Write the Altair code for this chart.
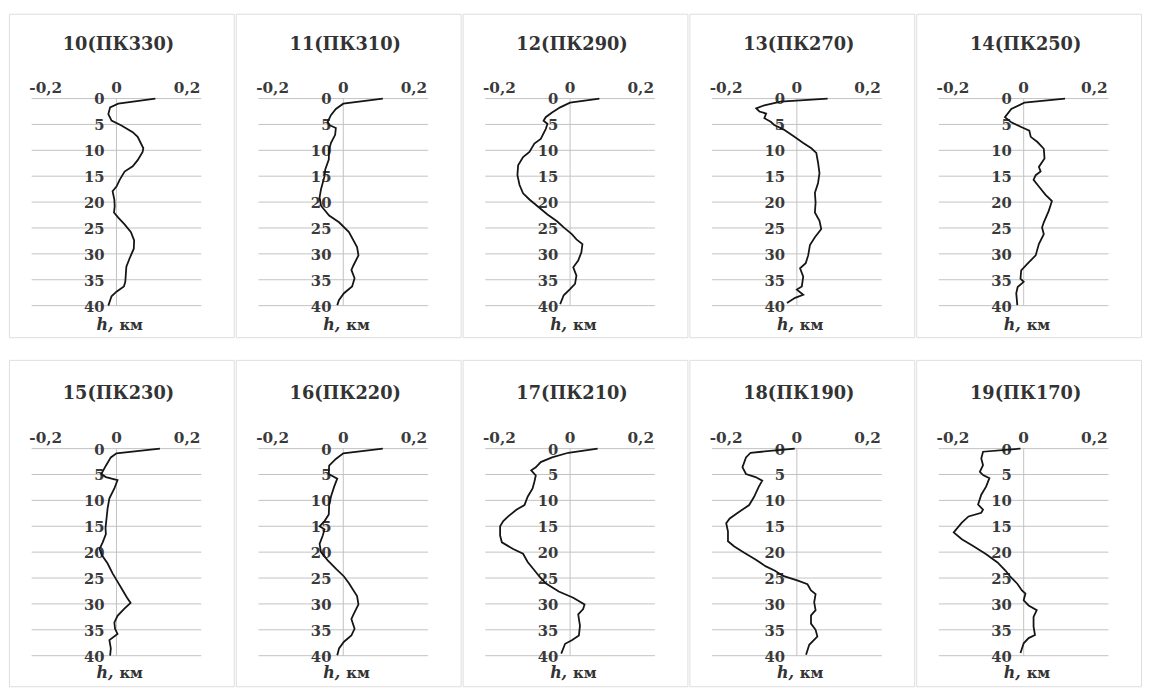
import altair as alt
import pandas as pd

# ---------------- data ----------------
titles = ["10(ПК330)", "11(ПК310)", "12(ПК290)", "13(ПК270)", "14(ПК250)",
          "15(ПК230)", "16(ПК220)", "17(ПК210)", "18(ПК190)", "19(ПК170)"]

y_ticks = [0, 5, 10, 15, 20, 25, 30, 35, 40]
x_ticks = [-0.2, 0, 0.2]
x_tick_labels = ["-0,2", "0", "0,2"]

h10 = [0, 1, 1.7, 3, 4.25, 5.2, 6.5, 7.4, 9.6, 10.3, 11.9, 13.1, 14.1, 15.7, 17, 17.9, 19.5, 20.8, 22, 23,
       24.3, 25.8, 27.4, 29, 30.9, 32.5, 35.4, 36.3, 37.3, 38.2, 40]
v10 = [0.11, 0.005, -0.018, -0.023, -0.014, 0.014, 0.046, 0.06, 0.076, 0.074, 0.06, 0.046, 0.023, 0.009, 0,
       -0.011, -0.006, -0.005, -0.007, 0.005, 0.023, 0.041, 0.05, 0.049, 0.037, 0.028, 0.025, 0.021, 0,
       -0.014, -0.023]

h11 = [0, 1, 2, 3.2, 4.5, 5.1, 5.7, 7, 8.6, 9.9, 11.8, 13.7, 15, 17.5, 19.1, 20.7, 22.6, 23.9, 25.8, 28.7,
       30.3, 32.2, 33.1, 34.7, 36.3, 37.6, 38.9, 39.9]
v11 = [0.112, 0, -0.021, -0.035, -0.044, -0.04, -0.021, -0.023, -0.035, -0.04, -0.041, -0.051, -0.053,
       -0.063, -0.067, -0.063, -0.04, -0.012, 0.016, 0.039, 0.043, 0.029, 0.023, 0.032, 0.025, 0.002,
       -0.012, -0.017]

h12 = [0, 0.8, 1.7, 2.7, 3.6, 4.3, 4.9, 5.9, 7.8, 8.7, 10.3, 11.3, 12.9, 14.8, 16.7, 18.3, 19.5, 20.8, 22.4,
       23.7, 24.9, 26.2, 27.2, 28.1, 29.7, 31.3, 32.6, 34.2, 35.8, 36.8, 38, 39.7]
v12 = [0.083, 0, -0.028, -0.051, -0.069, -0.075, -0.064, -0.069, -0.083, -0.101, -0.115, -0.133, -0.147,
       -0.149, -0.143, -0.133, -0.115, -0.092, -0.064, -0.037, -0.018, 0.005, 0.018, 0.035, 0.032, 0.023,
       0.009, 0.018, 0.014, 0, -0.018, -0.028]

h13 = [0, 0.6, 1.3, 1.9, 2.5, 2.9, 3.8, 4.5, 5.1, 6, 7.3, 8.6, 9.6, 10.5, 12.4, 14.4, 16.3, 18.2, 20.1, 22,
       23.6, 25.2, 26.8, 28.3, 30.3, 31.8, 32.8, 34.4, 36.3, 36.9, 37.9, 38.5, 39.5]
v13 = [0.087, -0.046, -0.092, -0.115, -0.106, -0.087, -0.092, -0.074, -0.064, -0.037, -0.009, 0.018,
       0.041, 0.055, 0.06, 0.064, 0.06, 0.051, 0.053, 0.051, 0.064, 0.069, 0.051, 0.037, 0.032, 0.025,
       0.009, 0.018, 0.014, 0, 0.018, -0.005, -0.028]

h14 = [0, 0.8, 2, 3.6, 4.6, 5.5, 6.2, 7.4, 8.4, 9.7, 11.6, 13.2, 14.1, 14.8, 15.7, 17, 18.6, 19.8, 21.7,
       23.9, 24.9, 26.2, 28.1, 30.3, 31.9, 33.2, 34.8, 35.4, 36.4, 37.6, 39.9]
v14 = [0.117, 0.002, -0.035, -0.053, -0.035, -0.007, 0.016, 0.02, 0.039, 0.057, 0.059, 0.043, 0.048,
       0.034, 0.028, 0.043, 0.062, 0.08, 0.071, 0.057, 0.052, 0.057, 0.043, 0.034, 0.011, -0.007, -0.009,
       0, -0.017, -0.021, -0.018]

h15 = [0, 0.9, 1.7, 3.3, 4.9, 5.5, 6.1, 7.7, 9.6, 11.5, 13.4, 15.3, 16.5, 18.1, 19.4, 20.6, 22.2, 24.1,
       25.7, 27.3, 28.8, 29.8, 31, 32.3, 33.6, 34.8, 35.8, 37, 38.6, 40]
v15 = [0.123, 0, -0.016, -0.03, -0.043, -0.03, 0.003, -0.006, -0.02, -0.025, -0.028, -0.031, -0.03,
       -0.039, -0.048, -0.041, -0.025, -0.011, 0.003, 0.017, 0.03, 0.04, 0.021, 0.003, -0.006, -0.004,
       0.003, -0.02, -0.016, -0.018]

h16 = [0, 0.9, 2, 3.3, 4.9, 5.8, 7.4, 9.3, 10.9, 12.7, 14, 15, 15.6, 16.8, 18.4, 20, 21.6, 23.2, 24.7, 26,
       28.5, 30.1, 32, 32.9, 34.8, 36.1, 37.3, 38.6, 39.9]
v16 = [0.112, 0, -0.021, -0.04, -0.041, -0.017, -0.026, -0.035, -0.04, -0.041, -0.053, -0.067, -0.053,
       -0.058, -0.067, -0.063, -0.044, -0.021, 0.002, 0.016, 0.039, 0.043, 0.029, 0.023, 0.032, 0.023,
       0.002, -0.012, -0.017]

h17 = [0, 0.8, 1.7, 2.6, 3.6, 4.2, 5.2, 6.4, 7.7, 9.3, 10.9, 11.8, 13.1, 14, 15, 16.8, 18.1, 19.4, 20.3,
       21.9, 23.5, 24.7, 26, 27.6, 28.8, 30.1, 31, 32, 34.2, 36.1, 37, 37.7, 39.6]
v17 = [0.078, -0.005, -0.051, -0.083, -0.097, -0.11, -0.097, -0.101, -0.106, -0.12, -0.129, -0.152,
       -0.175, -0.189, -0.198, -0.198, -0.193, -0.161, -0.133, -0.12, -0.101, -0.087, -0.069, -0.032,
       0.009, 0.041, 0.037, 0.023, 0.028, 0.025, 0.005, -0.014, -0.025]

h18 = [0, 0.8, 1.7, 3.6, 4.9, 5.5, 6.2, 7.4, 9.3, 10.9, 12.2, 13.5, 14.4, 16, 17.9, 18.9, 20.1, 21.4, 22.7,
       23.6, 24.6, 25.5, 26.2, 27.4, 28.1, 29.7, 31.2, 32.2, 33.8, 35, 36.3, 37.9, 39.8]
v18 = [-0.006, -0.131, -0.144, -0.154, -0.144, -0.117, -0.098, -0.108, -0.121, -0.135, -0.163, -0.19,
       -0.2, -0.195, -0.195, -0.177, -0.149, -0.117, -0.089, -0.062, -0.039, 0.003, 0.03, 0.04, 0.053,
       0.049, 0.053, 0.04, 0.04, 0.053, 0.058, 0.035, 0.026]

h19 = [0, 0.6, 1.9, 3.2, 4.5, 5.1, 5.7, 7.3, 8.9, 10.8, 11.8, 12.4, 13.1, 14.3, 16.2, 17.5, 18.8, 20.4, 22,
       23.6, 24.8, 26.1, 27.4, 28, 29.3, 30.3, 31.2, 32.5, 34.4, 36, 36.6, 37.6, 39.5]
v19 = [-0.009, -0.115, -0.12, -0.115, -0.124, -0.115, -0.097, -0.106, -0.12, -0.129, -0.115, -0.12,
       -0.156, -0.175, -0.198, -0.175, -0.143, -0.106, -0.074, -0.051, -0.037, -0.018, -0.005, 0.005, 0,
       0.014, 0.037, 0.028, 0.028, 0.032, 0.014, 0, -0.009]

profiles_h = [h10, h11, h12, h13, h14, h15, h16, h17, h18, h19]
profiles_v = [v10, v11, v12, v13, v14, v15, v16, v17, v18, v19]

# ---------------- styling ----------------
FONT = "DejaVu Serif"
TXT = "#3a3a3a"
GRID = "#c2c2c2"
X_MIN, X_MAX = -0.24, 0.24
PW = 228


def make_panel(title, h, v, ph, top, title_y, unit_y):
    # top: vertical shift of the panel's content (px) inside its box
    xs = alt.Scale(domain=[X_MIN, X_MAX], range=[23, 195], nice=False, zero=False)
    ys = alt.Scale(domain=[0, 40], range=[91 + top, 301 + top], nice=False, zero=False)

    grid_df = pd.DataFrame({
        "t": y_ticks,
        "xa": [X_MIN] * len(y_ticks),
        "xb": [X_MAX] * len(y_ticks),
        "x0": [0] * len(y_ticks),
        "lab": [str(t) for t in y_ticks],
    })
    xt_df = pd.DataFrame({"x": x_ticks, "lab": x_tick_labels})
    zero_df = pd.DataFrame({"x": [0], "y1": [y_ticks[0]], "y2": [y_ticks[-1]]})
    line_df = pd.DataFrame({"h": h, "v": v, "i": list(range(len(h)))})
    one = pd.DataFrame({"a": [0]})

    grid = alt.Chart(grid_df).mark_rule(color=GRID, strokeWidth=1).encode(
        x=alt.X("xa:Q", scale=xs, axis=None),
        x2="xb:Q",
        y=alt.Y("t:Q", scale=ys, axis=None),
    )
    zero = alt.Chart(zero_df).mark_rule(color=GRID, strokeWidth=1).encode(
        x=alt.X("x:Q", scale=xs, axis=None),
        y=alt.Y("y1:Q", scale=ys, axis=None),
        y2="y2:Q",
    )
    xlab = alt.Chart(xt_df).mark_text(
        align="center", baseline="alphabetic", font=FONT, fontWeight="bold",
        fontSize=15.5, color=TXT,
    ).encode(
        x=alt.X("x:Q", scale=xs, axis=None),
        y=alt.value(85 + top),
        text="lab:N",
    )
    ylab = alt.Chart(grid_df).mark_text(
        align="right", baseline="middle", dx=-12, dy=1, font=FONT, fontWeight="bold",
        fontSize=15, color=TXT,
    ).encode(
        x=alt.X("x0:Q", scale=xs, axis=None),
        y=alt.Y("t:Q", scale=ys, axis=None),
        text="lab:N",
    )
    line = alt.Chart(line_df).mark_line(color="#151515", strokeWidth=1.8).encode(
        x=alt.X("v:Q", scale=xs, axis=None),
        y=alt.Y("h:Q", scale=ys, axis=None),
        order="i:Q",
    )
    ttl = alt.Chart(one).mark_text(
        align="center", baseline="middle", font=FONT, fontWeight="bold", fontSize=18, color="#333333",
    ).encode(x=alt.value(111), y=alt.value(title_y), text=alt.value(title))
    hh = alt.Chart(one).mark_text(
        align="right", baseline="alphabetic", font=FONT, fontWeight="bold", fontStyle="italic",
        fontSize=16, color="#333333",
    ).encode(x=alt.value(106), y=alt.value(unit_y), text=alt.value("h,"))
    km = alt.Chart(one).mark_text(
        align="left", baseline="alphabetic", font=FONT, fontWeight="bold",
        fontSize=15, color="#333333",
    ).encode(x=alt.value(112), y=alt.value(unit_y), text=alt.value("км"))

    return alt.layer(grid, zero, xlab, ylab, line, ttl, hh, km).properties(width=PW, height=ph)


panels1 = [make_panel(t, h, v, 328, -5, 32, 321) for t, h, v in
           zip(titles[:5], profiles_h[:5], profiles_v[:5])]
panels2 = [make_panel(t, h, v, 331, -1, 35, 323) for t, h, v in
           zip(titles[5:], profiles_h[5:], profiles_v[5:])]
row1 = alt.hconcat(*panels1, spacing=0)
row2 = alt.hconcat(*panels2, spacing=0)

chart = alt.vconcat(row1, row2, spacing=21).properties(
    padding={"left": 0, "top": 0, "right": 0, "bottom": 0}
).configure_view(
    stroke="#9c9c9c", strokeWidth=2
).configure(background="white")

chart.save("out.html", embed_options={"renderer": "svg", "actions": False})
